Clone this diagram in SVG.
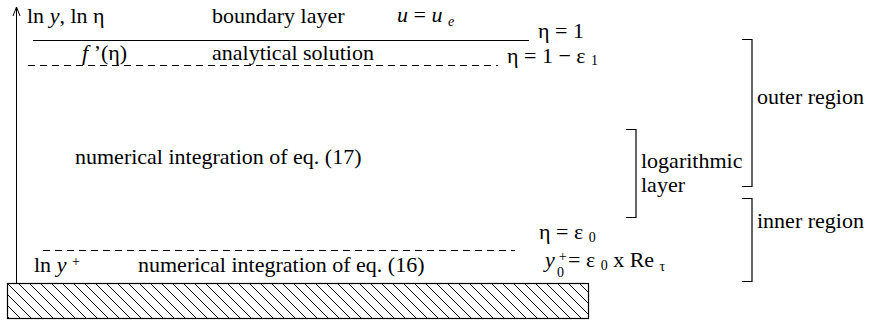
<svg xmlns="http://www.w3.org/2000/svg" width="875" height="326" viewBox="0 0 875 326">
<defs>
<style>
text{font-family:"Liberation Serif","Times New Roman",serif;font-size:22px;fill:#000}
.i{font-style:italic}
.sub{font-size:14px}
.ln{stroke:#000;stroke-width:1;fill:none}
.dash{stroke:#000;stroke-width:1;fill:none;stroke-dasharray:7,5}
.br{stroke:#000;stroke-width:1.2;fill:none}
</style>
<pattern id="hatch" patternUnits="userSpaceOnUse" width="11" height="11" patternTransform="translate(7,283)">
<path d="M-1,-1 L12,12 M-12,-1 L1,12 M10,-1 L23,12" stroke="#000" stroke-width="1"/>
</pattern>
</defs>
<g id="wall">
<rect x="7.5" y="283.5" width="581" height="35" fill="url(#hatch)" stroke="#000" stroke-width="1.2"/>
</g>
<g id="connectors">
<path class="ln" d="M16.5,283 V8"/>
<path class="ln" d="M13,16 L16.5,7 L20,16"/>
<path class="ln" d="M33,40.5 H529"/>
<path class="dash" d="M28,65.5 H498"/>
<path class="dash" d="M43,250.5 H515"/>
</g>
<g id="labels-top">
<text x="27" y="23">ln <tspan class="i">y</tspan>, ln η</text>
<text x="212" y="23">boundary layer</text>
<text x="397" y="22"><tspan class="i">u</tspan> = <tspan class="i">u</tspan> <tspan class="i sub" dy="4">e</tspan></text>
<text x="538" y="38">η = 1</text>
<text x="82" y="60"><tspan class="i">f</tspan> ’(η)</text>
<text x="212" y="60">analytical solution</text>
<text x="507" y="63">η = 1 − ε <tspan class="sub" dy="2">1</tspan></text>
</g>
<g id="labels-middle">
<text x="75" y="164">numerical integration of eq. (17)</text>
</g>
<g id="labels-bottom">
<text x="539" y="239">η = ε <tspan class="sub" dy="3">0</tspan></text>
<text x="545" y="267"><tspan class="i">y</tspan><tspan class="sub" dx="4" dy="-6">+</tspan></text>
<text x="557" y="277" class="sub">0</text>
<text x="568" y="267">= ε <tspan class="sub" dy="3">0</tspan><tspan dy="-3"> x Re </tspan><tspan class="sub" dy="4">τ</tspan></text>
<text x="34" y="272">ln <tspan class="i">y</tspan> <tspan class="sub" dy="-6">+</tspan></text>
<text x="138" y="272">numerical integration of eq. (16)</text>
</g>
<g id="log-layer">
<path class="br" d="M626,129.5 H636 V217.5 H626"/>
<text x="641" y="168">logarithmic</text>
<text x="641" y="192">layer</text>
</g>
<g id="outer-region">
<path class="br" d="M742,39.5 H752 V186.5 H742"/>
<text x="757" y="104">outer region</text>
</g>
<g id="inner-region">
<path class="br" d="M742,198.5 H752 V281.5 H742"/>
<text x="757" y="228">inner region</text>
</g>
</svg>
